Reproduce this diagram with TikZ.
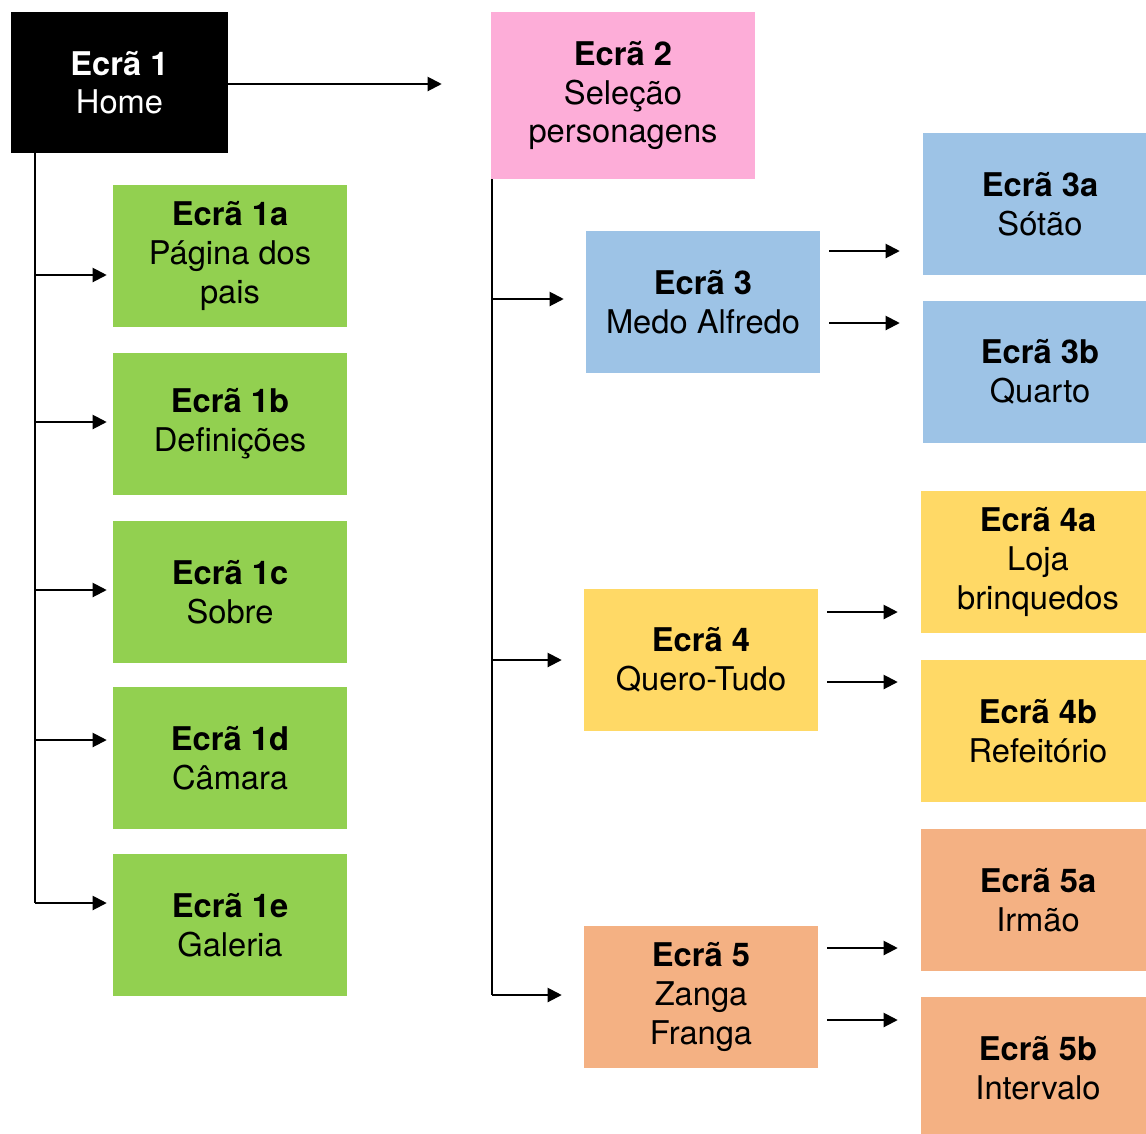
\documentclass[tikz,border=0pt]{standalone}
\usepackage{fontspec}
\setmainfont{TeX Gyre Heros}
\usepackage{xcolor}
\usetikzlibrary{arrows.meta}
\definecolor{ecrablack}{HTML}{000000}
\definecolor{ecrapink}{HTML}{FDADD8}
\definecolor{ecragreen}{HTML}{92D050}
\definecolor{ecrablue}{HTML}{9DC3E6}
\definecolor{ecrayellow}{HTML}{FFD966}
\definecolor{ecraorange}{HTML}{F4B183}
\tikzset{
  ecra/.style={minimum width=175.5pt, minimum height=106.5pt, inner sep=0pt, align=center, font=\fontsize{24.5}{29}\selectfont},
  trunk/.style={line width=1pt},
  arr/.style={line width=1.5pt, -{Triangle[length=10.5pt,width=10.5pt]}},
  side/.style={arr, shorten <=6.75pt, shorten >=17.25pt}
}
\begin{document}
\begin{tikzpicture}[x=0.75pt,y=0.75pt,yscale=-1,xscale=1]
\useasboundingbox (0,0) rectangle (1146,1133);

% Text Node
\node [ecra, fill=ecrablack, text=white, minimum width=162.75pt, minimum height=105.75pt] (e1) at (119.5,82.5) {\textbf{Ecrã 1}\\Home};
% Text Node
\node [ecra, fill=ecrapink, minimum width=198pt, minimum height=125.25pt] (e2) at (623,95.5) {\textbf{Ecrã 2}\\Seleção\\personagens};

% Text Node
\node [ecra, fill=ecragreen] (e1a) at (230,256) {\textbf{Ecrã 1a}\\Página dos\\pais};
\node [ecra, fill=ecragreen] (e1b) at (230,424) {\textbf{Ecrã 1b}\\Definições};
\node [ecra, fill=ecragreen] (e1c) at (230,592) {\textbf{Ecrã 1c}\\Sobre};
\node [ecra, fill=ecragreen] (e1d) at (230,758) {\textbf{Ecrã 1d}\\Câmara};
\node [ecra, fill=ecragreen] (e1e) at (230,925) {\textbf{Ecrã 1e}\\Galeria};

% Text Node
\node [ecra, fill=ecrablue] (e3) at (703,302) {\textbf{Ecrã 3}\\Medo Alfredo};
\node [ecra, fill=ecrablue] (e3a) at (1040,204) {\textbf{Ecrã 3a}\\Sótão};
\node [ecra, fill=ecrablue] (e3b) at (1040,372) {\textbf{Ecrã 3b}\\Quarto};

% Text Node
\node [ecra, fill=ecrayellow] (e4) at (701,660) {\textbf{Ecrã 4}\\Quero-Tudo};
\node [ecra, fill=ecrayellow] (e4a) at (1038,562) {\textbf{Ecrã 4a}\\Loja\\brinquedos};
\node [ecra, fill=ecrayellow] (e4b) at (1038,731) {\textbf{Ecrã 4b}\\Refeitório};

% Text Node
\node [ecra, fill=ecraorange] (e5) at (701,997) {\textbf{Ecrã 5}\\Zanga\\Franga};
\node [ecra, fill=ecraorange] (e5a) at (1038,900) {\textbf{Ecrã 5a}\\Irmão};
\node [ecra, fill=ecraorange] (e5b) at (1038,1068) {\textbf{Ecrã 5b}\\Intervalo};

%Straight Lines
\draw [arr, shorten >=36.75pt] (e1.east |- 0,84) -- (e2.west |- 0,84);

%Straight Lines
\coordinate (t1) at (35,903);
\draw [trunk] (e1.south -| t1) -- (t1);
\foreach \n/\y in {e1a/275, e1b/422, e1c/590, e1d/740, e1e/903}
  \draw [arr, shorten >=4.5pt] (t1 |- 0,\y) -- (\n.west |- 0,\y);

%Straight Lines
\coordinate (t2) at (492,995);
\draw [trunk] (e2.south -| t2) -- (t2);
\foreach \n/\y in {e3/299, e4/660, e5/995}
  \draw [arr, shorten >=16.5pt] (t2 |- 0,\y) -- (\n.west |- 0,\y);

%Straight Lines
\foreach \a/\b/\y in {e3/e3a/251, e3/e3b/323, e4/e4a/612, e4/e4b/682, e5/e5a/948, e5/e5b/1020}
  \draw [side] (\a.east |- 0,\y) -- (\b.west |- 0,\y);

\end{tikzpicture}
\end{document}
